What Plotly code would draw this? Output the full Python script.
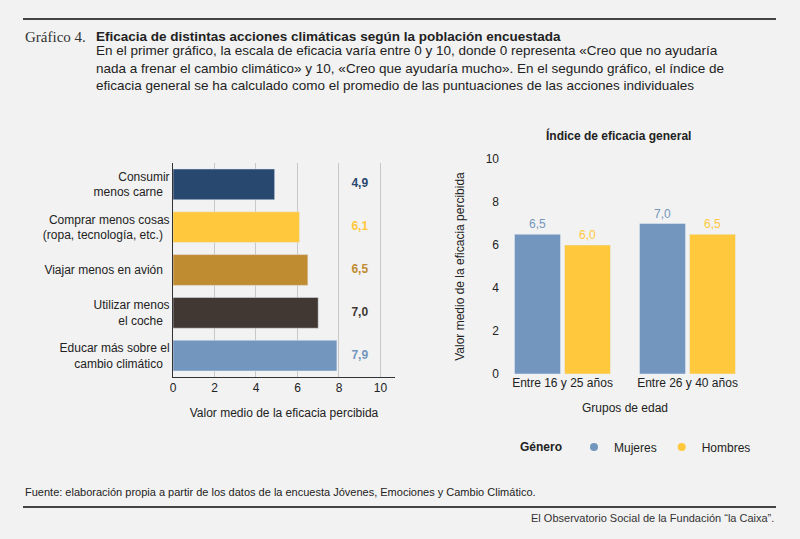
import plotly.graph_objects as go

acciones = ["Consumir<br>menos carne", "Comprar menos cosas<br>(ropa, tecnología, etc.)", "Viajar menos en avión",
            "Utilizar menos<br>el coche", "Educar más sobre el<br>cambio climático"]
valores = [4.9, 6.1, 6.5, 7.0, 7.9]
colores = ["#284870", "#ffc83d", "#c08c32", "#413834", "#7396be"]
grupos = ["Entre 16 y 25 años", "Entre 26 y 40 años"]
mujeres = [6.5, 7.0]
hombres = [6.0, 6.5]
BG = "#f2f2f2"
F = "Liberation Sans, Arial"

fig = go.Figure()
fig.add_trace(go.Bar(y=acciones, x=valores, orientation="h", marker_color=colores, width=0.72,
                     showlegend=False, xaxis="x", yaxis="y"))
fig.add_trace(go.Scatter(y=acciones, x=[9.0]*5, mode="text",
                         text=[f"{v:.1f}".replace(".", ",") for v in valores],
                         textfont=dict(color=colores, size=12, family=F), showlegend=False,
                         xaxis="x", yaxis="y", texttemplate="<b>%{text}</b>"))
fig.add_trace(go.Bar(x=grupos, y=mujeres, name="Mujeres", marker_color="#7396be", showlegend=False,
                     text=[f"{v:.1f}".replace(".", ",") for v in mujeres], textposition="outside",
                     textfont=dict(color="#7396be", size=12), xaxis="x2", yaxis="y2"))
fig.add_trace(go.Bar(x=grupos, y=hombres, name="Hombres", marker_color="#ffc83d", showlegend=False,
                     text=[f"{v:.1f}".replace(".", ",") for v in hombres], textposition="outside",
                     textfont=dict(color="#ffc83d", size=12), xaxis="x2", yaxis="y2"))
for nm, c in (("Mujeres", "#7396be"), ("Hombres", "#ffc83d")):
    fig.add_trace(go.Scatter(x=[None], y=[None], mode="markers", name=nm,
                             marker=dict(color=c, size=8, symbol="circle"), xaxis="x2", yaxis="y2"))

fig.update_layout(
    width=800, height=539, paper_bgcolor=BG, plot_bgcolor=BG,
    margin=dict(l=0, r=0, t=0, b=0, autoexpand=False), font=dict(family=F, size=12, color="#222"),
    barmode="group", bargap=0.2, bargroupgap=0.08,
    xaxis=dict(domain=[173/800, 395/800], range=[0, 10.7], tickvals=[0, 2, 4, 6, 8, 10], automargin=False,
               showgrid=True, gridcolor="#c8c8c8", zeroline=False, showline=True, linecolor="#333",
               ticks="", title=dict(text="Valor medio de la eficacia percibida", font=dict(size=12), standoff=14)),
    yaxis=dict(domain=[1-377/539, 1-163/539], autorange="reversed", showline=True, linecolor="#333",
               ticks="", ticksuffix="  ", anchor="x", automargin=False),
    xaxis2=dict(domain=[500/800, 750/800], anchor="y2", showline=False, ticks="", automargin=False,
                title=dict(text="Grupos de edad", font=dict(size=12), standoff=14)),
    yaxis2=dict(domain=[1-374/539, 1-159/539], anchor="x2", range=[0, 10], dtick=2, showgrid=False,
                zeroline=False, ticks="", automargin=False,
                title=dict(text="Valor medio de la eficacia percibida", font=dict(size=12), standoff=18)),
    legend=dict(orientation="h", x=574/800, y=1-447/539, yanchor="middle", xanchor="left",
                font=dict(size=12), itemwidth=30, bgcolor="rgba(0,0,0,0)"),
)
def ann(text, x, y, xanchor="left", **font):
    f = dict(size=12); f.update(font)
    fig.add_annotation(text=text, x=x/800, y=1-y/539, xref="paper", yref="paper", showarrow=False,
                       xanchor=xanchor, yanchor="middle", align="left", font=f)
ann("<b>Género</b>", 518, 447)
ann("<b>Índice de eficacia general</b>", 618, 136, xanchor="center")
ann("Gráfico 4.", 23, 37, family="Liberation Serif", size=15, color="#333")
ann("<b>Eficacia de distintas acciones climáticas según la población encuestada</b>", 94, 37, size=13.5)
ann("En el primer gráfico, la escala de eficacia varía entre 0 y 10, donde 0 representa «Creo que no ayudaría<br>"
    "nada a frenar el cambio climático» y 10, «Creo que ayudaría mucho». En el segundo gráfico, el índice de<br>"
    "eficacia general se ha calculado como el promedio de las puntuaciones de las acciones individuales",
    94, 68, size=13.5)
ann("Fuente: elaboración propia a partir de los datos de la encuesta Jóvenes, Emociones y Cambio Climático.",
    23, 492, size=11)
ann("El Observatorio Social de la Fundación “la Caixa”.", 776, 518, xanchor="right", size=11, color="#333")
for yy in (19, 507):
    fig.add_shape(type="line", x0=23/800, x1=776/800, y0=1-yy/539, y1=1-yy/539, xref="paper", yref="paper",
                  line=dict(color="#444", width=2))
fig.write_html("out.html", config={"displayModeBar": False},
               post_script="document.body.style.margin='0';document.body.style.overflow='hidden';")
